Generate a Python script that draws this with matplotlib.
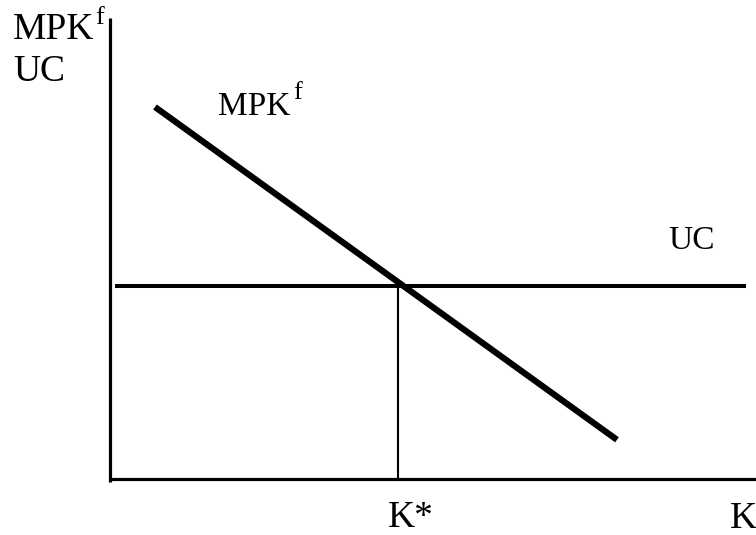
#!/usr/bin/env python3
"""
capital stock diagram: MPK^f vs user cost
"""

import matplotlib.pyplot as plt

plt.rcParams['font.family'] = ['Liberation Serif', 'DejaVu Serif']

# data (K on x, rate on y)
mpk_k = [0.75, 8.45]
mpk_r = [9.3, 0.98]
uc_k = [0.08, 10.6]
uc_r = [4.83, 4.83]
k_star = 4.8
y_top = 11.52
x_right = 10.77


def plot_diagram(output_file: str) -> None:
    fig = plt.figure(figsize=(7.56, 5.35), dpi=100)
    ax = fig.add_axes([0, 0, 1, 1])
    ax.set_xlim(-1.833, 10.767)
    ax.set_ylim(-1.4, 11.975)
    ax.axis('off')

    # axes
    ax.plot([0, 0], [-0.08, y_top], color='black', lw=2.3, solid_capstyle='butt')
    ax.plot([0, x_right], [0, 0], color='black', lw=2.3, solid_capstyle='butt')

    # curves
    ax.plot(uc_k, uc_r, color='black', lw=2.9, solid_capstyle='butt')
    ax.plot(mpk_k, mpk_r, color='black', lw=4.5, solid_capstyle='butt')
    ax.plot([k_star, k_star], [0, uc_r[0]], color='black', lw=1.5)

    big, mid, sup = 27, 24, 19
    kw = dict(va='baseline', ha='left')
    # axis title
    ax.text(-1.62, 11.0, 'MPK', fontsize=big, **kw)
    ax.text(-0.25, 11.38, 'f', fontsize=sup, **kw)
    ax.text(-1.62, 9.95, 'UC', fontsize=big, **kw)
    # curve labels
    ax.text(1.8, 9.1, 'MPK', fontsize=mid, **kw)
    ax.text(3.05, 9.5, 'f', fontsize=sup, **kw)
    ax.text(9.3, 5.75, 'UC', fontsize=mid, **kw)
    # x axis labels
    ax.text(k_star - 0.17, -1.2, 'K*', fontsize=big, **kw)
    ax.text(10.33, -1.225, 'K', fontsize=big, **kw)

    fig.savefig(output_file, dpi=100)


if __name__ == "__main__":
    plot_diagram('out.png')
